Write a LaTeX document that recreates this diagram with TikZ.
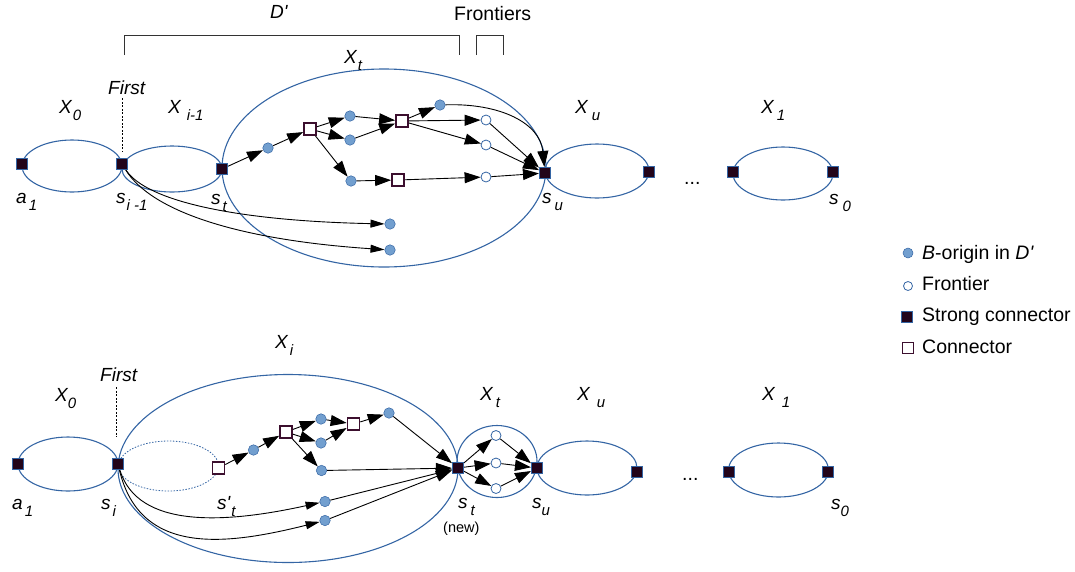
\documentclass[tikz,border=0pt]{standalone}
\usepackage{fontspec}
\setmainfont{Liberation Sans}
\usepackage{xcolor}
\usepackage{tikz}
\usetikzlibrary{arrows.meta}

\definecolor{ringblue}{HTML}{3465A4}
\definecolor{dotblue}{HTML}{729FCF}
\definecolor{strongfill}{HTML}{22041A}
\definecolor{connline}{HTML}{3C0F2E}

\newcommand{\lsub}[1]{\raisebox{-7pt}{\fontsize{15}{15}\selectfont #1}}

\begin{document}
\begin{tikzpicture}[x=1pt,y=-1pt,
        ring/.style={draw=ringblue, line width=1.1pt},
        strong/.style={draw=ringblue, fill=strongfill, line width=0.6pt, minimum size=11.5pt, inner sep=0pt},
        conn/.style={draw=connline, fill=white, line width=1.7pt, minimum size=12pt, inner sep=0pt},
        borig/.style={circle, draw=ringblue, fill=dotblue, line width=0.5pt, minimum size=10.5pt, inner sep=0pt},
        front/.style={circle, draw=ringblue, fill=white, line width=0.8pt, minimum size=10pt, inner sep=0pt},
        arr/.style={-{Triangle[length=16pt,width=11pt]}, line width=0.9pt},
        arrs/.style={-{Triangle[length=14pt,width=8pt]}, line width=0.9pt},
        guide/.style={dash pattern=on 2pt off 1.5pt, line width=0.8pt},
        lbl/.style={font=\fontsize{19}{22}\selectfont\itshape, anchor=base west, inner sep=0pt},
        txt/.style={font=\fontsize{19.5}{22}\selectfont, anchor=base west, inner sep=0pt}]
        \useasboundingbox (0,0) rectangle (1075,571);

        \draw[ring] (72,166) ellipse (50 and 26);
        \draw[ring] (172,169) ellipse (50 and 23);
        \draw[ring] (384,168) ellipse (162 and 99);
        \draw[ring] (597,171) ellipse (52 and 27);
        \draw[ring] (783,173.5) ellipse (50 and 26.5);

        \draw[line width=1pt, black!80] (124,55) -- (124,35) -- (459,35) -- (459,55);
        \draw[line width=1pt, black!80] (476,55) -- (476,35) -- (503,35) -- (503,55);

        \node[strong] (ta1) at (22,164) {};
        \node[strong] (tsi) at (122,164) {};
        \node[strong] (tst) at (222,169) {};
        \node[borig] (tb1) at (268,148) {};
        \node[conn] (tc1) at (310,129) {};
        \node[borig] (tba) at (350,116) {};
        \node[borig] (tbb) at (350,140) {};
        \node[borig] (tbc) at (351,181) {};
        \node[conn] (tc2) at (402,121) {};
        \node[conn] (tc3) at (398,180) {};
        \node[borig] (tbd) at (440,105) {};
        \node[front] (tf1) at (486,120) {};
        \node[front] (tf2) at (486,145) {};
        \node[front] (tf3) at (486,177) {};
        \node[strong] (tsu) at (545,173) {};
        \node[borig] (tlo1) at (390,224) {};
        \node[borig] (tlo2) at (390,250) {};
        \node[strong] (txu) at (649,172) {};
        \node[strong] (tx1) at (733,172) {};
        \node[strong] (ts0) at (833,172) {};

        \draw[arr] (tst) -- (tb1);
        \draw[arr] (tb1) -- (tc1);
        \draw[arr] (tc1) -- (tba);
        \draw[arr] (tc1) -- (tbb);
        \draw[arr] (tc1) -- (tbc);
        \draw[arr] (tba) -- (tc2);
        \draw[arr] (tbb) -- (tc2);
        \draw[arr] (tbc) -- (tc3);
        \draw[arr] (tc2) -- (tbd);
        \draw[arr] (tc2) -- (tf1);
        \draw[arr] (tc2) -- (tf2);
        \draw[arr] (tc3) -- (tf3);
        \draw[arr] (tf1) -- (tsu);
        \draw[arr] (tf2) -- (tsu);
        \draw[arr] (tf3) -- (tsu);
        \draw[arr] (tbd) .. controls +(60,-2) and +(-5,-50) .. (tsu);
        \draw[arrs] (tsi) .. controls +(25,38) and +(-150,-3) .. (tlo1);
        \draw[arrs] (tsi) .. controls +(30,48) and +(-150,-10) .. (tlo2);

        \node[lbl] (tx0l) at (59,113) {X\hspace{1pt}\lsub{0}};
        \node[lbl] (txil) at (168,113) {X\hspace{6pt}\lsub{i-1}};
        \node[lbl] (txtl) at (344,63) {X\hspace{1pt}\lsub{t}};
        \node[lbl] (txul) at (575,113) {X\hspace{4pt}\lsub{u}};
        \node[lbl] (tx1l) at (761,113) {X\hspace{3pt}\lsub{1}};
        \node[lbl] (ta1l) at (16,203) {a\hspace{2pt}\lsub{1}};
        \node[lbl] (tsil) at (116,203) {s\hspace{1pt}\lsub{i -1}};
        \node[lbl] (tstl) at (211,204) {s\hspace{2pt}\lsub{t}};
        \node[lbl] (tsul) at (542,203) {s\hspace{3pt}\lsub{u}};
        \node[lbl] (ts0l) at (829,204) {s\hspace{4pt}\lsub{0}};
        \node[txt] (tdots) at (684,184) {...};
        \node[lbl] (tfirst) at (108,94) {First};
        \node[lbl] (dlbl) at (270,18) {D\textquotesingle};
        \node[txt] (frlbl) at (454,20) {Frontiers};
        \coordinate (tfirstend) at (122,152);
        \draw[guide] ([yshift=-4pt]tfirst.south -| tfirstend) -- (tfirstend);

        \draw[ring] (68,464) ellipse (50 and 27);
        \draw[ring, line width=0.8pt, dash pattern=on 1.5pt off 1.5pt] (168.5,466) ellipse (50 and 25);
        \draw[ring] (288,468.5) ellipse (170 and 94);
        \draw[ring] (497,461.5) ellipse (40 and 36);
        \draw[ring] (587,468) ellipse (50 and 27);
        \draw[ring] (778.5,470) ellipse (50 and 27);

        \node[strong] (ba1) at (18,464) {};
        \node[strong] (bsi) at (118,464) {};
        \node[conn] (bstp) at (218.5,468) {};
        \node[borig] (bb1) at (253.5,450) {};
        \node[conn] (bc1) at (286,432) {};
        \node[borig] (bba) at (321,419) {};
        \node[borig] (bbb) at (321,443) {};
        \node[borig] (bbc) at (321.5,470.5) {};
        \node[conn] (bc2) at (353.5,424) {};
        \node[borig] (bbd) at (389,413) {};
        \node[borig] (blo1) at (325,501.5) {};
        \node[borig] (blo2) at (325,520.5) {};
        \node[strong] (bst) at (458,468) {};
        \node[front] (bf1) at (496,435.5) {};
        \node[front] (bf2) at (496,463) {};
        \node[front] (bf3) at (496,488.5) {};
        \node[strong] (bsu) at (537,468) {};
        \node[strong] (bxu) at (637,472) {};
        \node[strong] (bx1) at (729,472) {};
        \node[strong] (bs0) at (828,472) {};

        \draw[arr] (bstp) -- (bb1);
        \draw[arr] (bb1) -- (bc1);
        \draw[arr] (bc1) -- (bba);
        \draw[arr] (bc1) -- (bbb);
        \draw[arr] (bc1) -- (bbc);
        \draw[arr] (bba) -- (bc2);
        \draw[arr] (bbb) -- (bc2);
        \draw[arr] (bc2) -- (bbd);
        \draw[arr] (bbd) -- (bst);
        \draw[arr] (bbc) -- (bst);
        \draw[arr] (blo1) -- (bst);
        \draw[arr] (blo2) -- (bst);
        \draw[arrs] (bsi) .. controls +(20,65) and +(-100,22) .. (blo1);
        \draw[arrs] (bsi) .. controls +(22,92) and +(-100,25) .. (blo2);
        \draw[arr] (bst) -- (bf1);
        \draw[arr] (bst) -- (bf2);
        \draw[arr] (bst) -- (bf3);
        \draw[arr] (bf1) -- (bsu);
        \draw[arr] (bf2) -- (bsu);
        \draw[arr] (bf3) -- (bsu);

        \node[lbl] (bxil) at (275,348) {X\hspace{2pt}\lsub{i}};
        \node[lbl] (bfirst) at (100,381) {First};
        \node[lbl] (bx0l) at (55,401) {X\lsub{0}};
        \node[lbl] (bxtl) at (480,400) {X\hspace{3pt}\lsub{t}};
        \node[lbl] (bxul) at (577,400) {X\hspace{7pt}\lsub{u}};
        \node[lbl] (bx1l) at (762,400) {X\hspace{7pt}\lsub{1}};
        \node[lbl] (ba1l) at (12,509) {a\hspace{2pt}\lsub{1}};
        \node[lbl] (bsil) at (101,509) {s\hspace{2pt}\lsub{i}};
        \node[lbl] (bstpl) at (217,509) {s\textquotesingle\hspace{1pt}\lsub{t}};
        \node[lbl] (bstl) at (458,508) {s\hspace{3pt}\lsub{t}};
        \node[txt, font=\fontsize{14.5}{16}\selectfont] (bnew) at (443,532) {(new)};
        \node[lbl] (bsul) at (532,508) {s\lsub{u}};
        \node[lbl] (bs0l) at (831,509) {s\lsub{0}};
        \node[txt] (bdots) at (682,480) {...};
        \coordinate (bfirstend) at (116,437);
        \draw[guide] ([yshift=-6pt]bfirst.south -| bfirstend) -- (bfirstend);

        \node[borig, minimum size=10pt] (lgb) at (908,253) {};
        \node[txt] (lgbl) at (922,259) {\textit{B}-origin in \textit{D\textquotesingle}};
        \node[front, minimum size=9pt] (lgf) at (908,286) {};
        \node[txt] (lgfl) at (922,290) {Frontier};
        \node[strong, minimum size=10.5pt] (lgs) at (907,317) {};
        \node[txt] (lgsl) at (922,321) {Strong connector};
        \node[conn, minimum size=11pt] (lgc) at (908,348) {};
        \node[txt] (lgcl) at (922,353) {Connector};
\end{tikzpicture}
\end{document}
